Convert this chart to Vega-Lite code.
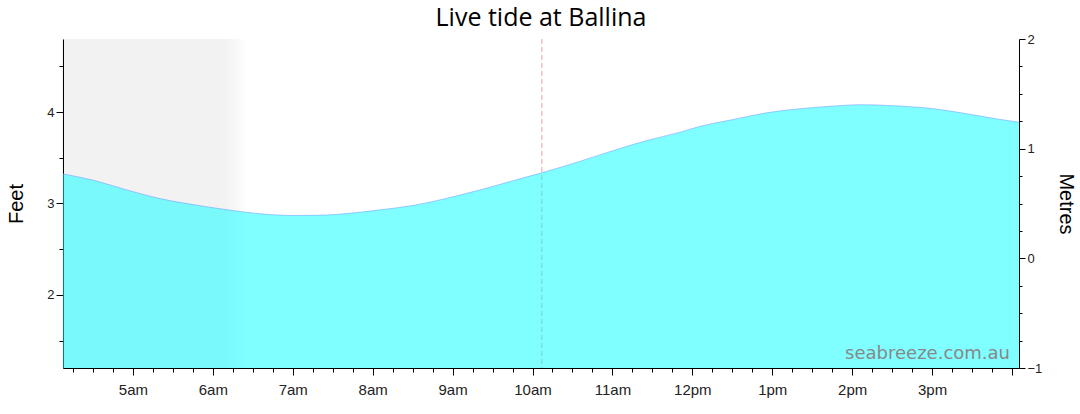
{
  "$schema": "https://vega.github.io/schema/vega-lite/v6.json",
  "autosize": {"type": "fit", "contains": "padding"},
  "width": 1080,
  "height": 414,
  "padding": {"left": 6, "top": 6, "right": 4, "bottom": 17},
  "background": "white",
  "title": {
    "text": "Live tide at Ballina",
    "font": "Open Sans",
    "fontSize": 25,
    "fontWeight": "normal",
    "color": "#000",
    "anchor": "middle",
    "offset": 2
  },
  "datasets": {
    "tide": [
      {"time": "2024-06-01T04:07:00Z", "feet": 3.325},
      {"time": "2024-06-01T04:31:00Z", "feet": 3.252},
      {"time": "2024-06-01T04:56:00Z", "feet": 3.146},
      {"time": "2024-06-01T05:21:00Z", "feet": 3.051},
      {"time": "2024-06-01T05:46:00Z", "feet": 2.986},
      {"time": "2024-06-01T06:11:00Z", "feet": 2.931},
      {"time": "2024-06-01T06:36:00Z", "feet": 2.887},
      {"time": "2024-06-01T07:01:00Z", "feet": 2.869},
      {"time": "2024-06-01T07:26:00Z", "feet": 2.874},
      {"time": "2024-06-01T07:43:00Z", "feet": 2.893},
      {"time": "2024-06-01T08:06:00Z", "feet": 2.931},
      {"time": "2024-06-01T08:31:00Z", "feet": 2.980},
      {"time": "2024-06-01T08:56:00Z", "feet": 3.058},
      {"time": "2024-06-01T09:21:00Z", "feet": 3.150},
      {"time": "2024-06-01T09:46:00Z", "feet": 3.252},
      {"time": "2024-06-01T10:07:00Z", "feet": 3.336},
      {"time": "2024-06-01T10:36:00Z", "feet": 3.463},
      {"time": "2024-06-01T11:01:00Z", "feet": 3.581},
      {"time": "2024-06-01T11:26:00Z", "feet": 3.690},
      {"time": "2024-06-01T11:51:00Z", "feet": 3.781},
      {"time": "2024-06-01T12:06:00Z", "feet": 3.845},
      {"time": "2024-06-01T12:31:00Z", "feet": 3.920},
      {"time": "2024-06-01T12:56:00Z", "feet": 3.993},
      {"time": "2024-06-01T13:21:00Z", "feet": 4.037},
      {"time": "2024-06-01T13:46:00Z", "feet": 4.066},
      {"time": "2024-06-01T14:06:00Z", "feet": 4.081},
      {"time": "2024-06-01T14:31:00Z", "feet": 4.070},
      {"time": "2024-06-01T15:01:00Z", "feet": 4.037},
      {"time": "2024-06-01T15:26:00Z", "feet": 3.982},
      {"time": "2024-06-01T15:51:00Z", "feet": 3.920},
      {"time": "2024-06-01T16:06:00Z", "feet": 3.888}
    ],
    "nightband": [
      {"start": "2024-06-01T04:07:00Z", "end": "2024-06-01T06:26:00Z"}
    ],
    "current": [
      {"time": "2024-06-01T10:07:00Z"}
    ],
    "metres": [
      {"m": -1},
      {"m": 2}
    ]
  },
  "layer": [
    {
      "layer": [
        {
          "data": {"name": "nightband"},
          "mark": {
            "type": "rect",
            "fill": {
              "gradient": "linear",
              "x1": 0, "y1": 0, "x2": 1, "y2": 0,
              "stops": [
                {"offset": 0, "color": "rgba(0,0,0,0.05)"},
                {"offset": 0.88, "color": "rgba(0,0,0,0.05)"},
                {"offset": 1, "color": "rgba(0,0,0,0)"}
              ]
            }
          },
          "encoding": {
            "x": {"field": "start", "type": "temporal"},
            "x2": {"field": "end"}
          }
        },
        {
          "data": {"name": "current"},
          "mark": {"type": "rule", "color": "#f4a0a0", "strokeWidth": 1, "strokeDash": [5, 3]},
          "encoding": {
            "x": {"field": "time", "type": "temporal"}
          }
        },
        {
          "data": {"name": "tide"},
          "mark": {"type": "area", "interpolate": "monotone", "color": "#00ffff", "opacity": 0.5, "clip": true},
          "encoding": {
            "x": {
              "field": "time",
              "type": "temporal",
              "scale": {
                "type": "utc",
                "domain": [1717214850000, 1717257915000],
                "nice": false
              },
              "axis": {
                "title": null,
                "grid": false,
                "tickCount": 48,
                "labelExpr": "utcminutes(datum.value) == 0 && utchours(datum.value) < 16 ? (utchours(datum.value) > 12 ? utchours(datum.value) - 12 : utchours(datum.value)) + (utchours(datum.value) < 12 ? \"am\" : \"pm\") : \"\"",
                "tickSize": {"condition": {"test": "utcminutes(datum.value) == 0", "value": 7}, "value": 4},
                "labelOverlap": false,
                "labelFlush": false,
                "labelFont": "Liberation Sans",
                "labelFontSize": 15,
                "labelColor": "#222",
                "labelPadding": 7,
                "domainColor": "#000",
                "tickColor": "#000"
              }
            },
            "y": {
              "field": "feet",
              "type": "quantitative",
              "scale": {"domain": [1.2, 4.8], "zero": false, "nice": false},
              "axis": {
                "title": "Feet",
                "titleFont": "Liberation Sans",
                "titleFontSize": 20,
                "titleFontWeight": "normal",
                "titleColor": "#000",
                "titlePadding": 20,
                "grid": false,
                "values": [1.5, 2, 2.5, 3, 3.5, 4, 4.5],
                "labelExpr": "datum.value == floor(datum.value) ? format(datum.value, \"d\") : \"\"",
                "tickSize": {"condition": {"test": "datum.value == floor(datum.value)", "value": 7}, "value": 4},
                "labelOverlap": false,
                "labelFont": "Liberation Sans",
                "labelFontSize": 13,
                "labelColor": "#222",
                "labelPadding": 2,
                "domainColor": "#000",
                "tickColor": "#000"
              }
            }
          }
        },
        {
          "data": {"name": "tide"},
          "mark": {"type": "line", "interpolate": "monotone", "color": "#6f9cff", "opacity": 0.55, "strokeWidth": 1, "clip": true},
          "encoding": {
            "x": {"field": "time", "type": "temporal"},
            "y": {"field": "feet", "type": "quantitative"}
          }
        },
        {
          "data": {"values": [{"site": "seabreeze.com.au"}]},
          "mark": {"type": "text", "align": "right", "baseline": "alphabetic", "font": "DejaVu Sans", "fontSize": 18, "color": "#888"},
          "encoding": {
            "x": {"datum": 1717257510000, "type": "temporal"},
            "y": {"datum": 1.3, "type": "quantitative"},
            "text": {"field": "site"}
          }
        }
      ]
    },
    {
      "data": {"name": "metres"},
      "mark": {"type": "point", "opacity": 0},
      "encoding": {
        "y": {
          "field": "m",
          "type": "quantitative",
          "scale": {"domain": [-1, 2], "zero": false, "nice": false},
          "axis": {
            "orient": "right",
            "title": "Metres",
            "titleFont": "Liberation Sans",
            "titleFontSize": 20,
            "titleFontWeight": "normal",
            "titleColor": "#000",
            "titlePadding": 14,
            "grid": false,
            "values": [-1, -0.75, -0.5, -0.25, 0, 0.25, 0.5, 0.75, 1, 1.25, 1.5, 1.75, 2],
            "labelExpr": "datum.value == floor(datum.value) ? format(datum.value, \"d\") : \"\"",
            "tickSize": {"condition": {"test": "datum.value == floor(datum.value)", "value": 6}, "value": 3},
            "labelFont": "Liberation Sans",
            "labelFontSize": 13,
            "labelColor": "#222",
            "labelPadding": 2,
            "labelOverlap": false,
            "labelFlush": false,
            "domainColor": "#000",
            "tickColor": "#000"
          }
        }
      }
    }
  ],
  "resolve": {"scale": {"y": "independent"}},
  "config": {
    "view": {"stroke": null}
  }
}
